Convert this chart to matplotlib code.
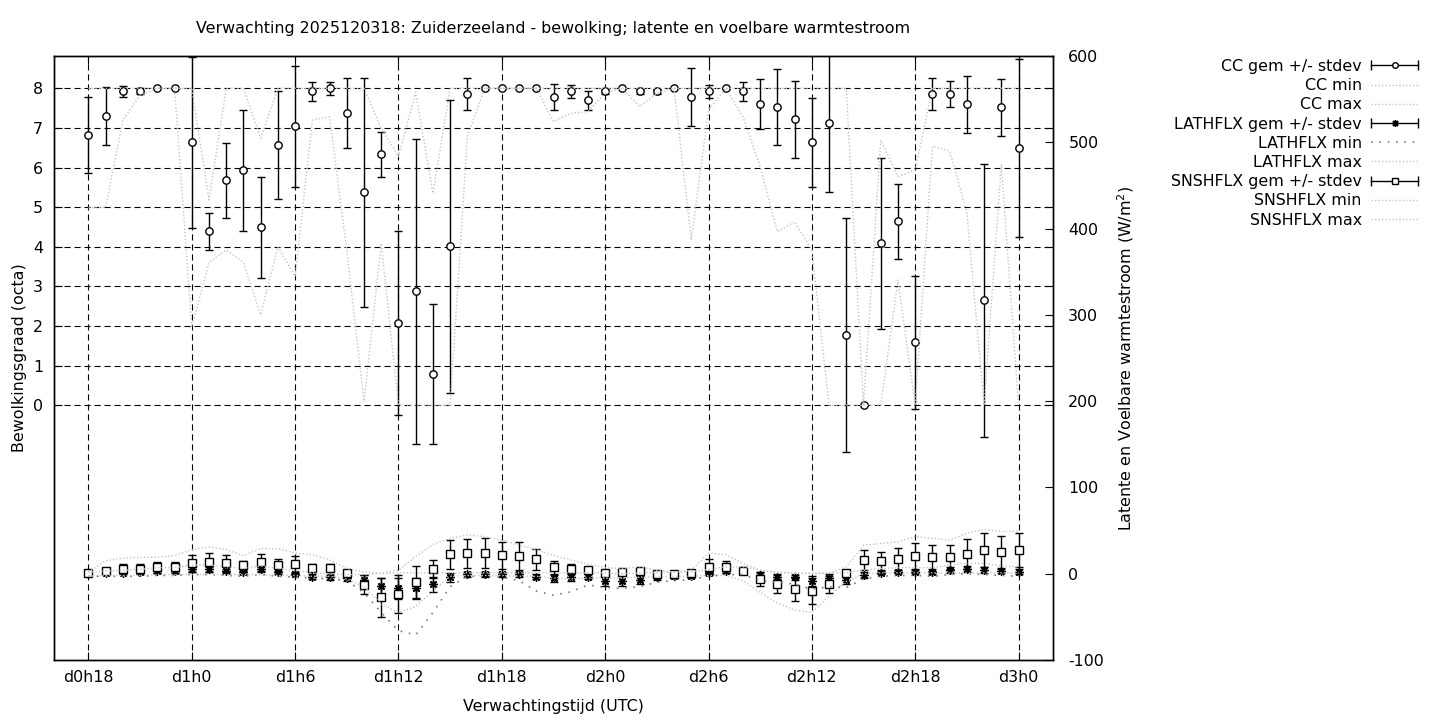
import matplotlib
matplotlib.use("Agg")
import matplotlib.pyplot as plt
from matplotlib.lines import Line2D
from matplotlib.legend_handler import HandlerBase

plt.rcParams['font.family'] = ['DejaVu Sans']
plt.rcParams['font.size'] = 11.4
plt.rcParams['axes.unicode_minus'] = False

# ---------------- data ----------------
hours = list(range(18, 73))  # forecast hour relative to d0h0

cc_mean = [6.81, 7.29, 7.92, 7.93, 8.0, 8.0, 6.64, 4.39, 5.68, 5.93, 4.49, 6.56, 7.04, 7.92,
           8.0, 7.37, 5.37, 6.33, 2.07, 2.88, 0.78, 4.01, 7.85, 8.0, 8.0, 8.0, 8.0, 7.77,
           7.92, 7.70, 7.92, 8.0, 7.92, 7.92, 8.0, 7.77, 7.92, 8.0, 7.92, 7.60, 7.52, 7.22,
           6.64, 7.12, 1.77, 0.0, 4.09, 4.64, 1.59, 7.85, 7.85, 7.60, 2.65, 7.52, 6.49]
cc_std = [0.96, 0.73, 0.15, 0.07, 0.0, 0.0, 2.16, 0.47, 0.95, 1.52, 1.27, 1.36, 1.53, 0.24,
          0.16, 0.88, 2.88, 0.56, 2.32, 3.85, 1.77, 3.69, 0.40, 0.0, 0.0, 0.0, 0.0, 0.33,
          0.16, 0.24, 0.07, 0.0, 0.07, 0.07, 0.0, 0.73, 0.17, 0.0, 0.24, 0.64, 0.96, 0.97,
          1.12, 1.75, 2.96, 0.0, 2.16, 0.95, 1.68, 0.40, 0.33, 0.72, 3.44, 0.72, 2.25]
cc_min = [4.98, 5.0, 7.2, 7.83, 8.0, 8.0, 1.98, 3.6, 3.92, 3.6, 2.28, 4.0, 3.25, 7.2,
          7.28, 3.9, 0.1, 4.09, 0.0, 0.0, 0.0, 0.0, 6.78, 8.0, 8.0, 8.0, 8.0, 7.16,
          7.37, 7.41, 7.88, 8.0, 7.54, 7.87, 8.0, 4.17, 7.45, 8.0, 7.28, 6.02, 4.38, 4.63,
          3.92, 0.0, 0.0, 0.0, 0.0, 3.16, 0.0, 6.54, 6.42, 4.86, 0.0, 6.08, 0.0]
cc_max = [8.0, 8.0, 8.0, 8.0, 8.0, 8.0, 8.0, 5.18, 8.0, 8.0, 6.74, 8.0, 8.0, 8.0,
          8.0, 8.0, 8.0, 6.99, 6.28, 7.9, 5.35, 8.0, 8.0, 8.0, 8.0, 8.0, 8.0, 8.0,
          8.0, 8.0, 8.0, 8.0, 8.0, 8.0, 8.0, 8.0, 8.0, 8.0, 8.0, 8.0, 8.0, 8.0,
          8.0, 8.0, 8.0, 0.0, 6.69, 5.77, 5.94, 8.0, 8.0, 8.0, 8.0, 8.0, 8.0]

lath_mean = [0.0, 0.5, 1.0, 1.5, 3.0, 3.0, 5.0, 5.0, 3.0, 1.5, 5.0, 1.7, 0.0, -3.5,
             -4.0, -5.3, -7.3, -14.0, -17.0, -17.0, -12.3, -4.2, -0.7, -0.7, -0.7, -0.7, -3.5, -5.4,
             -4.2, -3.5, -8.5, -8.5, -7.4, -4.2, -2.7, -2.7, 0.4, 3.5, 3.5, -1.5, -3.5, -4.2,
             -8.5, -5.0, -7.3, -1.5, 1.2, 2.3, 2.3, 1.6, 4.3, 5.4, 4.3, 3.5, 2.3]
lath_std = [1.0, 1.0, 1.5, 1.5, 2.0, 2.0, 3.0, 3.0, 2.5, 2.0, 3.0, 2.0, 2.0, 3.0,
            3.0, 3.0, 6.0, 9.0, 12.0, 12.0, 9.0, 5.0, 3.0, 3.0, 3.0, 3.0, 3.0, 4.0,
            4.0, 3.0, 6.0, 6.0, 5.0, 3.0, 2.0, 2.0, 2.0, 3.0, 3.0, 3.0, 3.0, 3.0,
            6.0, 5.0, 5.0, 3.0, 2.0, 2.0, 2.0, 2.0, 3.0, 3.0, 3.0, 3.0, 3.0]
lath_min = [-3, -3, -3, -3, -2, -2, -1, -1, -2, -3, -1, -3, -4, -5,
            -6, -8, -22, -45, -66, -71, -45, -15, -3, -3, -4, -8, -20, -25,
            -21, -13, -16, -17, -15, -10, -8, -7, -3, -1, -1, -8, -10, -12,
            -18, -15, -16, -6, -3, -2, -2, -3, -1, 0, -1, -2, -3]
lath_max = [2, 3, 4, 5, 7, 7, 10, 10, 8, 6, 9, 6, 4, 1,
            0, -1, -1, 0, 1, 1, 1, 1, 1, 1, 1, 1, 1, 1,
            1, 1, 1, 0, 1, 1, 2, 2, 5, 8, 8, 4, 2, 1,
            0, 1, 1, 4, 6, 7, 7, 7, 10, 12, 12, 9, 8]

snsh_mean = [0.5, 3.0, 6.0, 6.0, 7.4, 7.4, 12.0, 13.0, 12.0, 9.7, 13.0, 9.7, 10.9, 6.2,
             6.2, 0.5, -13.0, -27.4, -23.5, -10.0, 5.0, 22.5, 23.6, 23.6, 21.3, 20.5, 16.7, 7.4,
             5.1, 4.3, 0.4, 1.6, 3.1, -0.4, -0.4, 0.4, 8.1, 8.1, 3.5, -6.5, -12.0, -18.0,
             -20.0, -12.3, 1.2, 15.9, 14.7, 17.0, 20.5, 19.0, 19.0, 22.8, 27.5, 24.8, 27.5]
snsh_std = [1.0, 2.0, 5.5, 5.5, 6.0, 6.5, 9.7, 10.5, 10.0, 5.5, 9.5, 7.7, 10.0, 4.5,
            4.5, 2.0, 11.0, 23.0, 22.0, 18.5, 10.5, 16.5, 17.0, 17.5, 16.0, 16.0, 12.0, 7.5,
            6.0, 4.0, 3.0, 3.0, 3.0, 2.0, 1.5, 1.5, 8.5, 7.0, 4.0, 8.0, 10.5, 13.5,
            15.0, 10.0, 2.0, 11.5, 10.5, 13.0, 15.5, 14.0, 14.0, 17.0, 20.0, 19.0, 20.0]
snsh_min = [-3, -2, -2, -2, -1, -1, -1, -1, -1, -1, -1, -2, -2, -3,
            -3, -6, -15, -35, -45, -38, -20, -3, -2, -2, -2, -3, -3, -5,
            -6, -5, -5, -5, -4, -4, -3, -3, -2, -2, -8, -22, -34, -42,
            -45, -26, -9, 0, 1, 1, 1, 1, 1, 1, 1, 1, 1]
snsh_max = [2, 15, 18, 19, 19, 21, 28, 31, 28, 21, 29, 29, 24, 22,
            16, 6, 2, 0.5, 4, 20, 34, 41, 45, 43, 39, 33, 28, 21,
            16, 11, 7, 6, 8, 4, 2, 4, 24, 22, 12, 4, 1, 0.5,
            0.5, 0.5, 8, 33, 35, 37, 43, 41, 39, 47, 51, 49, 49]

xtick_pos = [18, 24, 30, 36, 42, 48, 54, 60, 66, 72]
xtick_lab = ['d0h18', 'd1h0', 'd1h6', 'd1h12', 'd1h18', 'd2h0', 'd2h6', 'd2h12', 'd2h18', 'd3h0']
cc_ticks = [0, 1, 2, 3, 4, 5, 6, 7, 8]
flux_ticks = [-100, 0, 100, 200, 300, 400, 500, 600]

title = 'Verwachting 2025120318: Zuiderzeeland - bewolking; latente en voelbare warmtestroom'

# ---------------- figure ----------------
W, H = 1440, 720
fig = plt.figure(figsize=(W / 100, H / 100), dpi=100)
L, R, T, B = 54, 1053, 56, 660
ax = fig.add_axes([L / W, 1 - B / H, (R - L) / W, (B - T) / H])
ax2 = ax.twinx()

ax.set_xlim(16, 74)
ax.set_ylim(-6.43, 8.815)
ax2.set_ylim(-100, 600)

light = '#c4c4c4'
fine = (0, (1, 1.5))
star = (8, 2, 0)

ebkw = dict(fmt='none', ecolor='black', elinewidth=1.0, capsize=3.2, capthick=1.0, zorder=3)
mkw = dict(ls='none', mec='black', mew=1.0, mfc='white', zorder=3.5)

cc_err = ax.errorbar(hours, cc_mean, yerr=cc_std, **ebkw)
ax.plot(hours, cc_mean, marker='o', ms=5.3, **mkw)
cc_lmin, = ax.plot(hours, cc_min, color=light, lw=1.0, ls=fine, zorder=4)
cc_lmax, = ax.plot(hours, cc_max, color=light, lw=1.0, ls=fine, zorder=4)

la_err = ax2.errorbar(hours, lath_mean, yerr=lath_std, **ebkw)
ax2.plot(hours, lath_mean, marker=star, ms=6, **mkw)
la_lmin, = ax2.plot(hours, lath_min, color='#7a7a7a', lw=1.2, ls=(0, (1, 4)), zorder=4)
la_lmax, = ax2.plot(hours, lath_max, color=light, lw=1.0, ls=fine, zorder=4)

sn_err = ax2.errorbar(hours, snsh_mean, yerr=snsh_std, **ebkw)
ax2.plot(hours, snsh_mean, marker='s', ms=5.3, **mkw)
sn_lmin, = ax2.plot(hours, snsh_min, color=light, lw=1.0, ls=fine, zorder=4)
sn_lmax, = ax2.plot(hours, snsh_max, color=light, lw=1.0, ls=fine, zorder=4)

# axes styling
ax.set_xticks(xtick_pos)
ax.set_xticklabels(xtick_lab)
ax.set_yticks(cc_ticks)
ax2.set_yticks(flux_ticks)
ax.grid(True, color='black', lw=0.8, ls=(0, (5.5, 3.5)))
ax.set_axisbelow(True)
ax.tick_params(axis='x', direction='in', length=6, top=True, pad=7, labelsize=11.4)
ax.tick_params(axis='y', direction='in', length=6, right=True, pad=8, labelsize=11.4)
ax2.tick_params(axis='y', direction='in', length=6, pad=11, labelsize=11.4)
for a in (ax, ax2):
    for s in a.spines.values():
        s.set_linewidth(1.0)

ax.set_xlabel('Verwachtingstijd (UTC)', fontsize=11.4)
ax.xaxis.set_label_coords(0.5, -0.064)
ax.set_ylabel('Bewolkingsgraad (octa)', fontsize=11.4)
ax.yaxis.set_label_coords(-0.027, 0.5)
ax2.set_ylabel('Latente en Voelbare warmtestroom (W/m$^2$)', fontsize=11.4)
ax2.yaxis.set_label_coords(1.062, 0.5)

fig.text((L + R) / 2 / W, 1 - 28 / H, title, ha='center', va='center', fontsize=11.4)


# legend with gnuplot-like error bar samples
class GnuErrHandler(HandlerBase):
    def __init__(self, marker, ms):
        super().__init__()
        self.marker = marker
        self.ms = ms

    def create_artists(self, legend, orig_handle, xdescent, ydescent, width, height, fontsize, trans):
        y = height / 2 - ydescent
        x0 = -xdescent
        x1 = x0 + width
        line = Line2D([x0, x1], [y, y], color='black', lw=1.0)
        caps = Line2D([x0, x1], [y, y], ls='none', marker='|', ms=7, mew=1.0, color='black')
        mk = Line2D([(x0 + x1) / 2], [y], ls='none', marker=self.marker, ms=self.ms,
                    mfc='white', mec='black', mew=1.0)
        for a in (line, caps, mk):
            a.set_transform(trans)
        return [line, caps, mk]


handles = [cc_err, cc_lmin, cc_lmax, la_err, la_lmin, la_lmax, sn_err, sn_lmin, sn_lmax]
labels = ['CC gem +/- stdev', 'CC min', 'CC max',
          'LATHFLX gem +/- stdev', 'LATHFLX min', 'LATHFLX max',
          'SNSHFLX gem +/- stdev', 'SNSHFLX min', 'SNSHFLX max']
hmap = {cc_err: GnuErrHandler('o', 4), la_err: GnuErrHandler(star, 5), sn_err: GnuErrHandler('s', 4)}
fig.legend(handles, labels, handler_map=hmap, loc='upper right',
           bbox_to_anchor=(1418 / W, 1 - 59 / H), frameon=False, markerfirst=False,
           handlelength=2.95, handletextpad=0.6, labelspacing=0.265, borderpad=0,
           borderaxespad=0, fontsize=11.4)

fig.savefig('out.png', dpi=100)
